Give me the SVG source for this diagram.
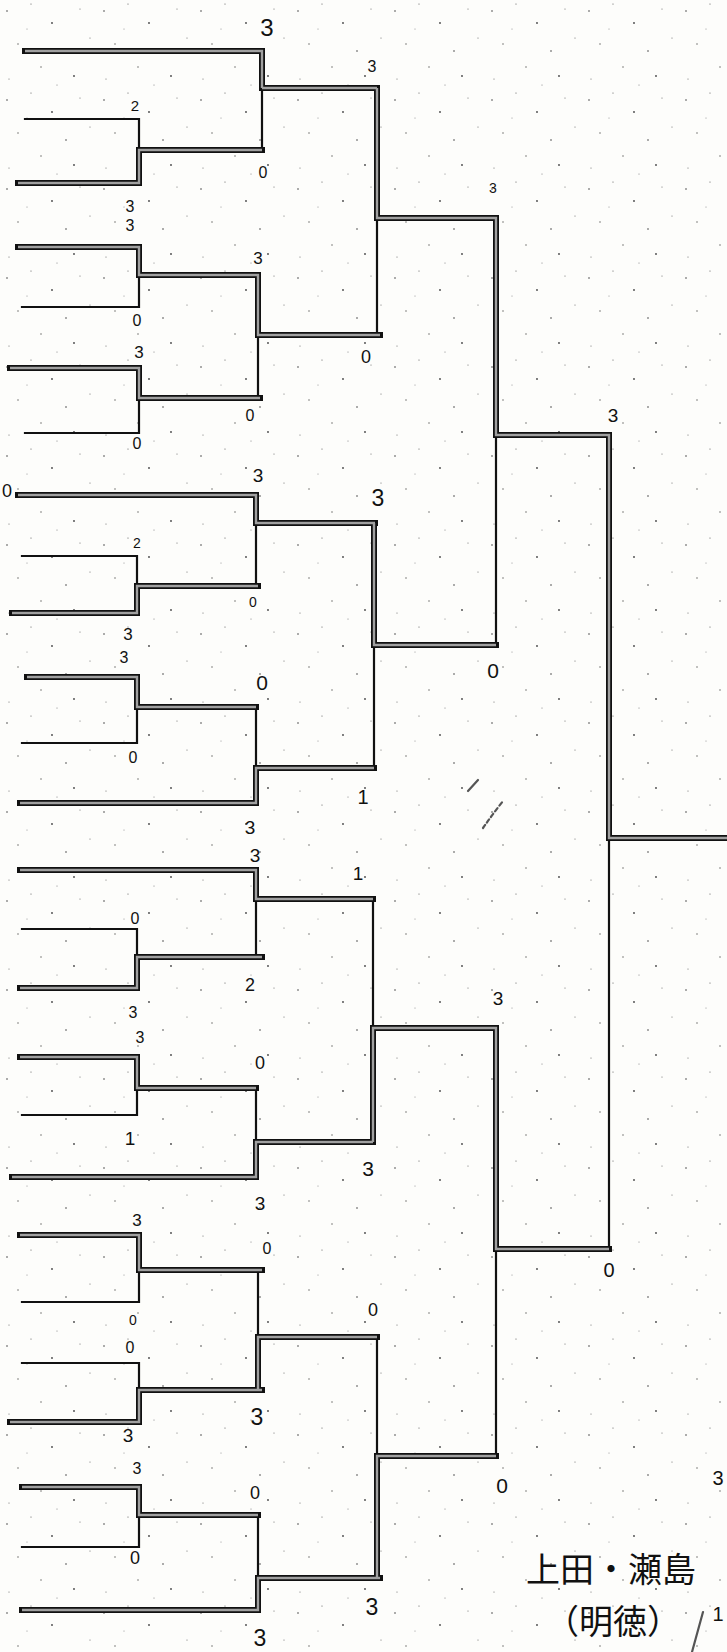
<svg xmlns="http://www.w3.org/2000/svg" xmlns:xlink="http://www.w3.org/1999/xlink" width="727" height="1652" viewBox="0 0 727 1652">
<style>
.thin{fill:none;stroke:#111;stroke-width:2.2;stroke-linecap:square}
.tko{fill:none;stroke:#111;stroke-width:6;stroke-linecap:square}
.tki{fill:none;stroke:#a0a0a0;stroke-width:2.4;stroke-linecap:butt}
.s{font-family:"Liberation Sans","DejaVu Sans",sans-serif;fill:#111;text-anchor:middle;dominant-baseline:central}
.jp{font-family:"Noto Sans CJK JP","Noto Sans CJK SC",sans-serif;fill:#111}
.mark{fill:none;stroke:#555;stroke-width:2.2;stroke-linecap:round}
</style>
<defs>
<pattern id="speck" width="97" height="89" patternUnits="userSpaceOnUse">
<circle cx="7" cy="11" r="0.8" fill="#444"/><circle cx="31" cy="4" r="0.6" fill="#555"/>
<circle cx="52" cy="23" r="0.9" fill="#444"/><circle cx="80" cy="9" r="0.6" fill="#666"/>
<circle cx="18" cy="44" r="0.7" fill="#555"/><circle cx="66" cy="51" r="0.8" fill="#444"/>
<circle cx="90" cy="38" r="0.6" fill="#666"/><circle cx="41" cy="67" r="0.7" fill="#555"/>
<circle cx="9" cy="79" r="0.6" fill="#666"/><circle cx="74" cy="76" r="0.9" fill="#444"/>
<circle cx="57" cy="85" r="0.5" fill="#666"/><circle cx="27" cy="29" r="0.5" fill="#777"/>
</pattern>
<path id="wins" d="
M25 51H262V88 M262 88H377
M18 183H139V150H262
M18 247H139V275H258V335H380
M10 368H139V398H260
M377 88V218H496V435H609V838H727
M18 495H256V523H375
M12 613H137V586H258
M27 677H137V707H256
M20 803H256V768H374
M374 523V645H496
M20 870H256V899H373
M20 988H137V957H262
M20 1057H137V1088H256
M12 1177H256V1142H373
M373 1142V1028H496V1249H609
M20 1235H139V1270H262
M10 1422H139V1390H262
M258 1390V1337H377
M22 1487H139V1515H258
M22 1610H258V1578H380
M377 1578V1456H496"/>
</defs>
<rect width="727" height="1652" fill="#fdfdfb"/>
<rect width="727" height="1652" fill="url(#speck)"/>
<g id="connectors">
<g id="losers" class="thin">
<path d="M262 88V150 M25 119H139V150 M22 307H139V275 M25 433H139V398 M258 335V398 M377 218V335"/>
<path d="M256 523V586 M22 556H137V586 M22 743H137V707 M256 707V768 M374 645V768 M496 435V645"/>
<path d="M256 899V957 M22 929H137V957 M22 1115H137V1088 M256 1088V1142 M373 899V1028"/>
<path d="M22 1302H139V1270 M258 1270V1337 M22 1363H139V1390 M22 1547H139V1515 M258 1515V1578 M377 1337V1456 M496 1249V1456 M609 838V1249"/>
</g>
<g id="winners">
<use xlink:href="#wins" href="#wins" class="tko"/>
<use xlink:href="#wins" href="#wins" class="tki"/>
</g>
</g>
<g id="scores">
<g id="q1">
<text class="s" x="267" y="27" font-size="24">3</text>
<text class="s" x="372" y="66" font-size="16">3</text>
<text class="s" x="135" y="105" font-size="15">2</text>
<text class="s" x="263" y="172" font-size="16">0</text>
<text class="s" x="130" y="206" font-size="16">3</text>
<text class="s" x="130" y="225" font-size="16">3</text>
<text class="s" x="258" y="258" font-size="17">3</text>
<text class="s" x="137" y="320" font-size="16">0</text>
<text class="s" x="139" y="352" font-size="17">3</text>
<text class="s" x="366" y="357" font-size="18">0</text>
<text class="s" x="250" y="415" font-size="16">0</text>
<text class="s" x="137" y="443" font-size="16">0</text>
<text class="s" x="493" y="188" font-size="14">3</text>
<text class="s" x="613" y="415" font-size="19">3</text>
<text class="s" x="493" y="670" font-size="21">0</text>
</g>
<g id="q2">
<text class="s" x="7" y="491" font-size="18">0</text>
<text class="s" x="258" y="475" font-size="19">3</text>
<text class="s" x="378" y="498" font-size="23">3</text>
<text class="s" x="137" y="543" font-size="14">2</text>
<text class="s" x="253" y="602" font-size="14">0</text>
<text class="s" x="128" y="634" font-size="17">3</text>
<text class="s" x="124" y="657" font-size="16">3</text>
<text class="s" x="262" y="682" font-size="21">0</text>
<text class="s" x="133" y="757" font-size="16">0</text>
<text class="s" x="363" y="797" font-size="20">1</text>
<text class="s" x="250" y="827" font-size="19">3</text>
<text class="s" x="255" y="855" font-size="19">3</text>
</g>
<g id="q3">
<text class="s" x="358" y="873" font-size="19">1</text>
<text class="s" x="135" y="918" font-size="16">0</text>
<text class="s" x="250" y="985" font-size="18">2</text>
<text class="s" x="133" y="1012" font-size="16">3</text>
<text class="s" x="140" y="1037" font-size="16">3</text>
<text class="s" x="260" y="1063" font-size="18">0</text>
<text class="s" x="130" y="1138" font-size="19">1</text>
<text class="s" x="368" y="1168" font-size="21">3</text>
<text class="s" x="260" y="1203" font-size="19">3</text>
<text class="s" x="498" y="998" font-size="19">3</text>
<text class="s" x="137" y="1220" font-size="17">3</text>
<text class="s" x="267" y="1248" font-size="16">0</text>
<text class="s" x="609" y="1270" font-size="20">0</text>
</g>
<g id="q4">
<text class="s" x="133" y="1320" font-size="14">0</text>
<text class="s" x="130" y="1347" font-size="16">0</text>
<text class="s" x="373" y="1310" font-size="18">0</text>
<text class="s" x="257" y="1417" font-size="23">3</text>
<text class="s" x="128" y="1435" font-size="19">3</text>
<text class="s" x="137" y="1468" font-size="16">3</text>
<text class="s" x="255" y="1493" font-size="18">0</text>
<text class="s" x="502" y="1485" font-size="21">0</text>
<text class="s" x="135" y="1558" font-size="18">0</text>
<text class="s" x="372" y="1607" font-size="23">3</text>
<text class="s" x="260" y="1638" font-size="23">3</text>
<text class="s" x="718" y="1478" font-size="20">3</text>
</g>
</g>
<g id="marks">
<path class="mark" d="M468 791L478 780"/>
<path class="mark" d="M483 828Q492 815 503 801" stroke-dasharray="4 3"/>
</g>
<g id="note">
<text class="jp" x="526" y="1582" font-size="34">上田・瀬島</text>
<text class="jp" x="545" y="1634" font-size="34">（明徳）</text>
<path class="mark" d="M703 1612L692 1652" stroke="#111"/>
<text class="s" x="718" y="1614" font-size="20">1</text>
</g>
</svg>
